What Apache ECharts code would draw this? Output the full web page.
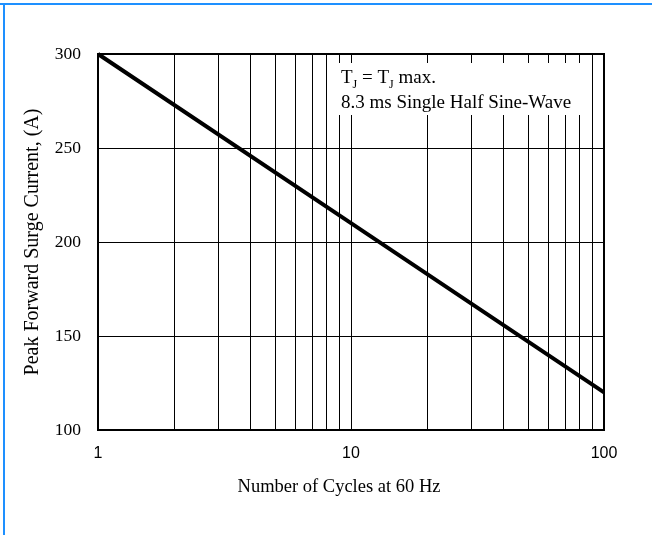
<!DOCTYPE html>
<html>
<head>
<meta charset="utf-8">
<script src="https://cdn.jsdelivr.net/npm/echarts@6/dist/echarts.min.js"></script>
<style>
html,body{margin:0;padding:0;background:#fff;}
#c{width:652px;height:535px;}
</style>
</head>
<body>
<div id="c"></div>
<script>
// Data
var cycles = [1, 10, 100];
var surgeCurrent = [300, 210, 120];
var minorGridX = [2, 3, 4, 5, 6, 7, 8, 9, 20, 30, 40, 50, 60, 70, 80, 90];
var yTicks = [100, 150, 200, 250, 300];
var xTitle = 'Number of Cycles at 60 Hz';
var yTitle = 'Peak Forward Surge Current, (A)';
var noteLine1 = 'T{sub|J} = T{sub|J} max.';
var noteLine2 = '8.3 ms Single Half Sine-Wave';

var serif = '"Liberation Serif", "Times New Roman", serif';
var sans = '"Liberation Sans", Arial, sans-serif';

var chart = echarts.init(document.getElementById('c'), null, {renderer: 'canvas'});
var option = {
  animation: false,
  backgroundColor: '#fff',
  grid: {
    left: 98, right: 48, top: 54, bottom: 105,
    show: true, borderColor: '#000', borderWidth: 2, backgroundColor: 'transparent'
  },
  xAxis: {
    type: 'log', logBase: 10, min: 1, max: 100,
    name: xTitle, nameLocation: 'middle', nameGap: 48,
    nameTextStyle: {fontFamily: serif, fontSize: 18.5, color: '#000', padding: [0, 24, 0, 0]},
    axisLine: {show: true, lineStyle: {color: '#000', width: 2}},
    axisTick: {show: false},
    axisLabel: {fontFamily: sans, fontSize: 16, color: '#000', margin: 16},
    splitLine: {show: true, lineStyle: {color: '#000', width: 1}},
    minorTick: {show: false}, minorSplitLine: {show: false}
  },
  yAxis: {
    type: 'value', min: yTicks[0], max: yTicks[yTicks.length - 1], interval: 50,
    name: yTitle, nameLocation: 'middle', nameGap: 55, nameRotate: 90,
    nameTextStyle: {fontFamily: serif, fontSize: 20, color: '#000'},
    axisLine: {show: true, lineStyle: {color: '#000', width: 2}},
    axisTick: {show: false},
    axisLabel: {fontFamily: serif, fontSize: 17.5, color: '#000', margin: 17},
    splitLine: {show: true, lineStyle: {color: '#000', width: 1}}
  },
  series: [{
    type: 'line',
    data: cycles.map(function (c, i) { return [c, surgeCurrent[i]]; }),
    showSymbol: false,
    lineStyle: {color: '#000', width: 4},
    z: 5,
    markLine: {
      silent: true, symbol: 'none', animation: false,
      label: {show: false},
      lineStyle: {color: '#000', width: 1, type: 'solid'},
      data: minorGridX.map(function (v) { return {xAxis: v}; }),
      z: 1
    }
  }],
  graphic: [
    {type: 'line', shape: {x1: 0, y1: 4, x2: 652, y2: 4}, style: {stroke: '#1E90FF', lineWidth: 2}, z: 100},
    {type: 'line', shape: {x1: 4, y1: 3, x2: 4, y2: 535}, style: {stroke: '#1E90FF', lineWidth: 2}, z: 100},
    {type: 'rect', left: 330, top: 63, z: 50, shape: {width: 255, height: 52}, style: {fill: '#fff'}},
    {type: 'text', left: 341, top: 66, z: 51, style: {
      text: noteLine1 + '\n' + noteLine2,
      fontFamily: serif, fontSize: 19, fill: '#000', lineHeight: 25,
      rich: {sub: {fontFamily: serif, fontSize: 12, verticalAlign: 'bottom', padding: [9, 0, 0, 0]}}
    }}
  ]
};
chart.setOption(option);
</script>
</body>
</html>
